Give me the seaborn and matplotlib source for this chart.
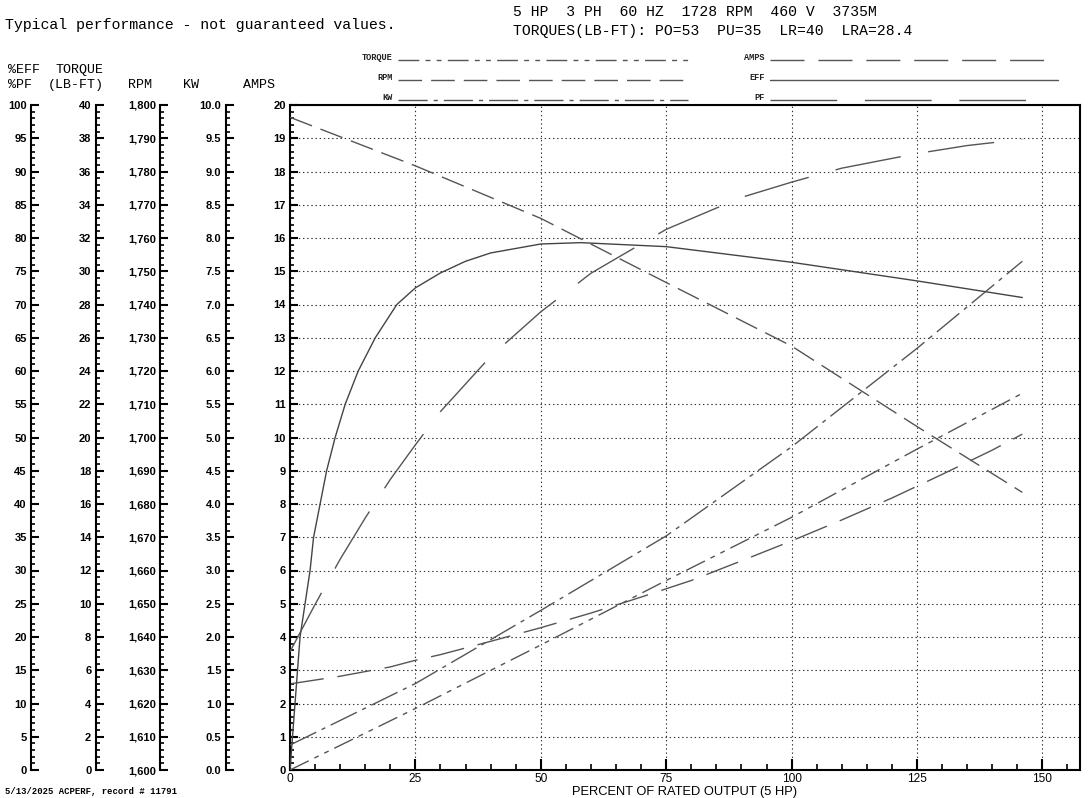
import matplotlib
matplotlib.use('Agg')
import matplotlib.pyplot as plt
import seaborn as sns
from matplotlib.lines import Line2D
from matplotlib.ticker import MultipleLocator, FuncFormatter

sns.set_theme(style='white')
plt.rcParams['lines.scale_dashes'] = False
plt.rcParams['font.family'] = ['Liberation Sans', 'DejaVu Sans']

# values, x = percent of rated output
load_eff = [0, 0.5, 2, 3, 4, 4.7, 6, 7.3, 9, 11, 13.6, 17, 21.3, 25, 30, 35, 40, 50, 58, 75, 100, 125, 146]
eff = [0, 5, 20, 25, 30, 35, 40, 45, 50, 55, 60, 65, 70, 72.5, 74.75, 76.5, 77.75, 79.1, 79.3, 78.7, 76.35, 73.55, 71.05]

load_pf = [0, 5, 10, 15, 20, 25, 30, 40, 50, 60, 75, 90, 100, 110, 125, 135, 146]
pf = [17.8, 24.9, 31.7, 37.9, 43.7, 48.9, 53.9, 62.2, 68.9, 74.7, 81.3, 86.1, 88.4, 90.5, 92.7, 93.9, 94.85]

load_amps = [0, 10, 20, 25, 30, 40, 50, 60, 70, 80, 90, 100, 110, 120, 130, 140, 146]
amps = [2.59, 2.82, 3.10, 3.30, 3.47, 3.87, 4.28, 4.72, 5.20, 5.70, 6.29, 6.89, 7.52, 8.18, 8.89, 9.62, 10.1]

load_pts = [0, 25, 50, 75, 100, 125, 146]
rpm = [1796.3, 1781.7, 1765.9, 1746.6, 1727.5, 1703.3, 1683.5]
kw = [0.375, 1.3, 2.4, 3.52, 4.86, 6.34, 7.65]
torque = [0, 3.7, 7.52, 11.4, 15.2, 19.3, 22.66]

W, H = 1088, 798
GREY = '#555555'

# line styles (points)
ls_torque = (0, (15, 4.5, 3.5, 4.5, 3.5, 4.5))
ls_rpm = (0, (17, 6.5))
ls_kw = (0, (21, 4.3, 3, 4.3))
ls_amps = (0, (24.5, 10))
ls_eff = '-'
ls_pf = (0, (48, 20))


def fx(x):
    return x / W


def fy(y):
    return 1 - y / H


fig = plt.figure(figsize=(W / 100, H / 100), dpi=100)
ax = fig.add_axes([fx(290), fy(770), 789.5 / W, 665 / H])


def style_scale(a, lo, hi, major, minor, fmt, offset_px):
    a.set_ylim(lo, hi)
    a.yaxis.set_major_locator(MultipleLocator(major))
    a.yaxis.set_minor_locator(MultipleLocator(minor))
    a.yaxis.set_major_formatter(FuncFormatter(fmt))
    a.yaxis.set_ticks_position('left')
    a.tick_params(axis='y', which='major', direction='in', length=6, width=1.5,
                  pad=3, colors='black', labelsize=8)
    a.tick_params(axis='y', which='minor', direction='in', length=3, width=1.2, colors='black')
    for s in ['right', 'top', 'bottom']:
        a.spines[s].set_visible(False)
    a.spines['left'].set_visible(True)
    a.spines['left'].set_color('black')
    a.spines['left'].set_linewidth(1.5)
    if offset_px:
        a.spines['left'].set_position(('outward', offset_px * 0.72))


# main axes = AMPS scale
ax.set_xlim(0, 157.4)
style_scale(ax, 0, 20, 1, 0.2, lambda v, p: f'{v:.0f}', 0)
for s in ['right', 'top', 'bottom']:
    ax.spines[s].set_visible(True)
    ax.spines[s].set_color('black')
    ax.spines[s].set_linewidth(1.5)
ax.xaxis.set_major_locator(MultipleLocator(25))
ax.xaxis.set_minor_locator(MultipleLocator(5))
ax.xaxis.set_ticks_position('bottom')
ax.tick_params(axis='x', which='major', direction='in', length=8, width=1.5, pad=2,
               labelsize=8.6, colors='black')
ax.tick_params(axis='x', which='minor', direction='in', length=4, width=1.2, colors='black')
ax.grid(True, which='major', color='#333333', linestyle=(0, (1, 2)), linewidth=0.8)
ax.set_xlabel('PERCENT OF RATED OUTPUT (5 HP)', fontsize=9.3, labelpad=1, color='black')
ax.set_ylabel('')

eff_ax = ax.twinx()
style_scale(eff_ax, 0, 100, 5, 1, lambda v, p: f'{v:.0f}', 259)
tq_ax = ax.twinx()
style_scale(tq_ax, 0, 40, 2, 0.4, lambda v, p: f'{v:.0f}', 194.5)
rpm_ax = ax.twinx()
style_scale(rpm_ax, 1600, 1800, 10, 2, lambda v, p: f'{v:,.0f}', 130)
kw_ax = ax.twinx()
style_scale(kw_ax, 0, 10, 0.5, 0.1, lambda v, p: f'{v:.1f}', 64.5)

# curves
sns.lineplot(x=load_eff, y=eff, ax=eff_ax, color='#444444', linewidth=1.0, linestyle=ls_eff)
sns.lineplot(x=load_pf, y=pf, ax=eff_ax, color=GREY, linewidth=1.0, linestyle=ls_pf)
sns.lineplot(x=load_pts, y=torque, ax=tq_ax, color=GREY, linewidth=1.0, linestyle=ls_torque)
sns.lineplot(x=load_pts, y=rpm, ax=rpm_ax, color=GREY, linewidth=1.0, linestyle=ls_rpm)
sns.lineplot(x=load_pts, y=kw, ax=kw_ax, color=GREY, linewidth=1.0, linestyle=ls_kw)
sns.lineplot(x=load_amps, y=amps, ax=ax, color=GREY, linewidth=1.0, linestyle=ls_amps)
for a in [ax, eff_ax, tq_ax, rpm_ax, kw_ax]:
    a.set_xlim(0, 157.4)
    a.set_ylabel('')

# header text
mono = 'Liberation Mono'
fig.text(fx(5), fy(25), 'Typical performance - not guaranteed values.', family=mono,
         size=10.7, va='center', color='black')
fig.text(fx(513), fy(12), '5 HP  3 PH  60 HZ  1728 RPM  460 V  3735M', family=mono,
         size=10.6, va='center', color='black')
fig.text(fx(513), fy(31), 'TORQUES(LB-FT): PO=53  PU=35  LR=40  LRA=28.4', family=mono,
         size=10.6, va='center', color='black')

for txt, x, y in [('%EFF', 8, 70), ('TORQUE', 56, 70), ('%PF', 8, 85), ('(LB-FT)', 48, 85),
                  ('RPM', 128, 85), ('KW', 183, 85), ('AMPS', 243, 85)]:
    fig.text(fx(x), fy(y), txt, family=mono, size=9.6, va='center', color='black')

fig.text(fx(5), fy(792), '5/13/2025 ACPERF, record # 11791', family=mono, size=6.4,
         weight='bold', va='center', color='black')

# line-style key
key = [('TORQUE', 393, 58, 398, 688, ls_torque),
       ('RPM', 393, 78, 398, 688, ls_rpm),
       ('KW', 393, 98, 398, 688, ls_kw),
       ('AMPS', 765, 58, 770, 1052, ls_amps),
       ('EFF', 765, 78, 770, 1058, ls_eff),
       ('PF', 765, 98, 770, 1037, ls_pf)]
for name, tx, ty, x0, x1, ls in key:
    fig.text(fx(tx), fy(ty), name, family=mono, size=6.2, weight='bold', ha='right',
             va='center', color='#222222')
    fig.add_artist(Line2D([fx(x0), fx(x1)], [fy(ty + 2), fy(ty + 2)], transform=fig.transFigure,
                          color=GREY, linewidth=1.0, linestyle=ls))

# bold tick labels on the vertical scales
fig.canvas.draw()
for a in [ax, eff_ax, tq_ax, rpm_ax, kw_ax]:
    plt.setp(a.get_yticklabels(), fontweight='bold')

fig.savefig('out.png', dpi=100, facecolor='white')
